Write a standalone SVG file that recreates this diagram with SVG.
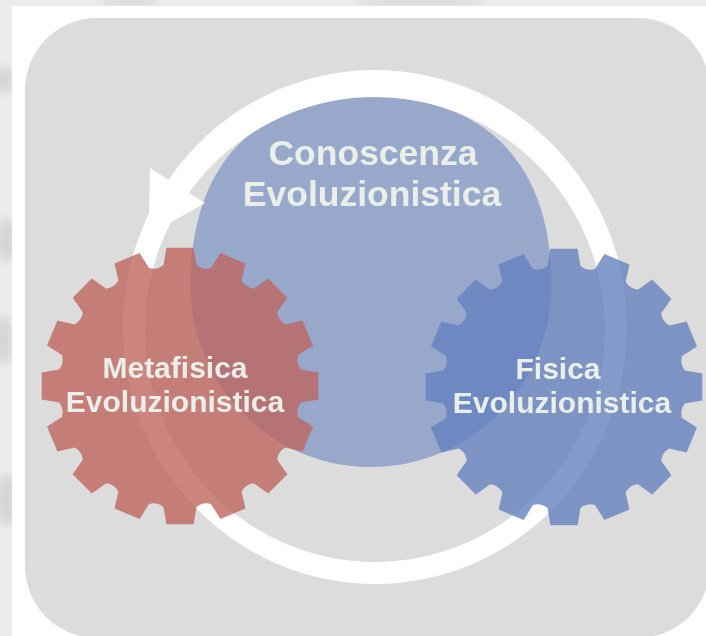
<svg xmlns="http://www.w3.org/2000/svg" width="706" height="636" viewBox="0 0 706 636">
<style>
.t{font-family:"Liberation Sans",Arial,sans-serif;font-weight:700;font-size:30px;fill:#e9eee8;text-anchor:middle}
.big{font-size:35.5px}
</style>
<defs>
<filter id="b" x="-50%" y="-50%" width="200%" height="200%"><feGaussianBlur stdDeviation="5"/></filter>
<filter id="s" x="-2%" y="-2%" width="104%" height="104%"><feGaussianBlur stdDeviation="0.7"/></filter>
<path id="gear" d="M13.6-138.3L16.5-120.9Q23-115.7 31-118L40.4-133L65.5-122.6L61.6-105.4Q65.6-98.1 73.8-97.2L88.2-107.4L107.4-88.2L97.2-73.8Q98.1-65.6 105.4-61.6L122.6-65.5L133-40.4L118-31Q115.7-23 120.9-16.5L138.3-13.6L138.3 13.6L120.9 16.5Q115.7 23 118 31L133 40.4L122.6 65.5L105.4 61.6Q98.1 65.6 97.2 73.8L107.4 88.2L88.2 107.4L73.8 97.2Q65.6 98.1 61.6 105.4L65.5 122.6L40.4 133L31 118Q23 115.7 16.5 120.9L13.6 138.3L-13.6 138.3L-16.5 120.9Q-23 115.7 -31 118L-40.4 133L-65.5 122.6L-61.6 105.4Q-65.6 98.1 -73.8 97.2L-88.2 107.4L-107.4 88.2L-97.2 73.8Q-98.1 65.6 -105.4 61.6L-122.6 65.5L-133 40.4L-118 31Q-115.7 23 -120.9 16.5L-138.3 13.6L-138.3-13.6L-120.9-16.5Q-115.7-23 -118-31L-133-40.4L-122.6-65.5L-105.4-61.6Q-98.1-65.6 -97.2-73.8L-107.4-88.2L-88.2-107.4L-73.8-97.2Q-65.6-98.1 -61.6-105.4L-65.5-122.6L-40.4-133L-31-118Q-23-115.7 -16.5-120.9L-13.6-138.3Z"/>
</defs>
<rect width="706" height="636" fill="#ececec"/>
<g filter="url(#b)" fill="#d4d4d4"><ellipse cx="4" cy="80" rx="10" ry="14"/><ellipse cx="6" cy="240" rx="10" ry="22"/><ellipse cx="3" cy="340" rx="10" ry="24"/><ellipse cx="6" cy="500" rx="10" ry="26"/><ellipse cx="130" cy="2" rx="30" ry="4"/><ellipse cx="420" cy="2" rx="70" ry="4"/></g>
<rect x="12" y="6" width="694" height="630" fill="#fff"/>
<g filter="url(#s)">
<rect x="25" y="18" width="685" height="620" rx="72" fill="#dcdcdc"/>
<path id="conoscenza" fill="#98a8cb" d="M190.5 285C190.5 170 250 97 371 97C492 97 551.5 170 551.5 285C551.5 385 471 467 371 467C271 467 190.5 385 190.5 285Z"/>
<g id="connectors">
<path fill="#fff" fill-rule="evenodd" d="M123 327A252 257 0 1 1 627 327A252 257 0 1 1 123 327ZM145 329.5A230 232.5 0 1 0 605 329.5A230 232.5 0 1 0 145 329.5Z"/>
<path fill="#fff" d="M150 168L205 203L168 224L149 216Z"/>
</g>
<g id="metafisica"><use href="#gear" x="180" y="386" fill="#be655e" fill-opacity=".8"/>
<text class="t" x="175" y="378">Metafisica</text><text class="t" x="175" y="412">Evoluzionistica</text></g>
<g id="fisica"><use href="#gear" x="564" y="387" fill="#6481be" fill-opacity=".8"/>
<text class="t" x="558" y="379">Fisica</text><text class="t" x="562" y="413">Evoluzionistica</text></g>
<g id="conoscenza-label"><text class="t big" x="373" y="165">Conoscenza</text><text class="t big" x="372" y="206">Evoluzionistica</text></g>
</g>
</svg>
